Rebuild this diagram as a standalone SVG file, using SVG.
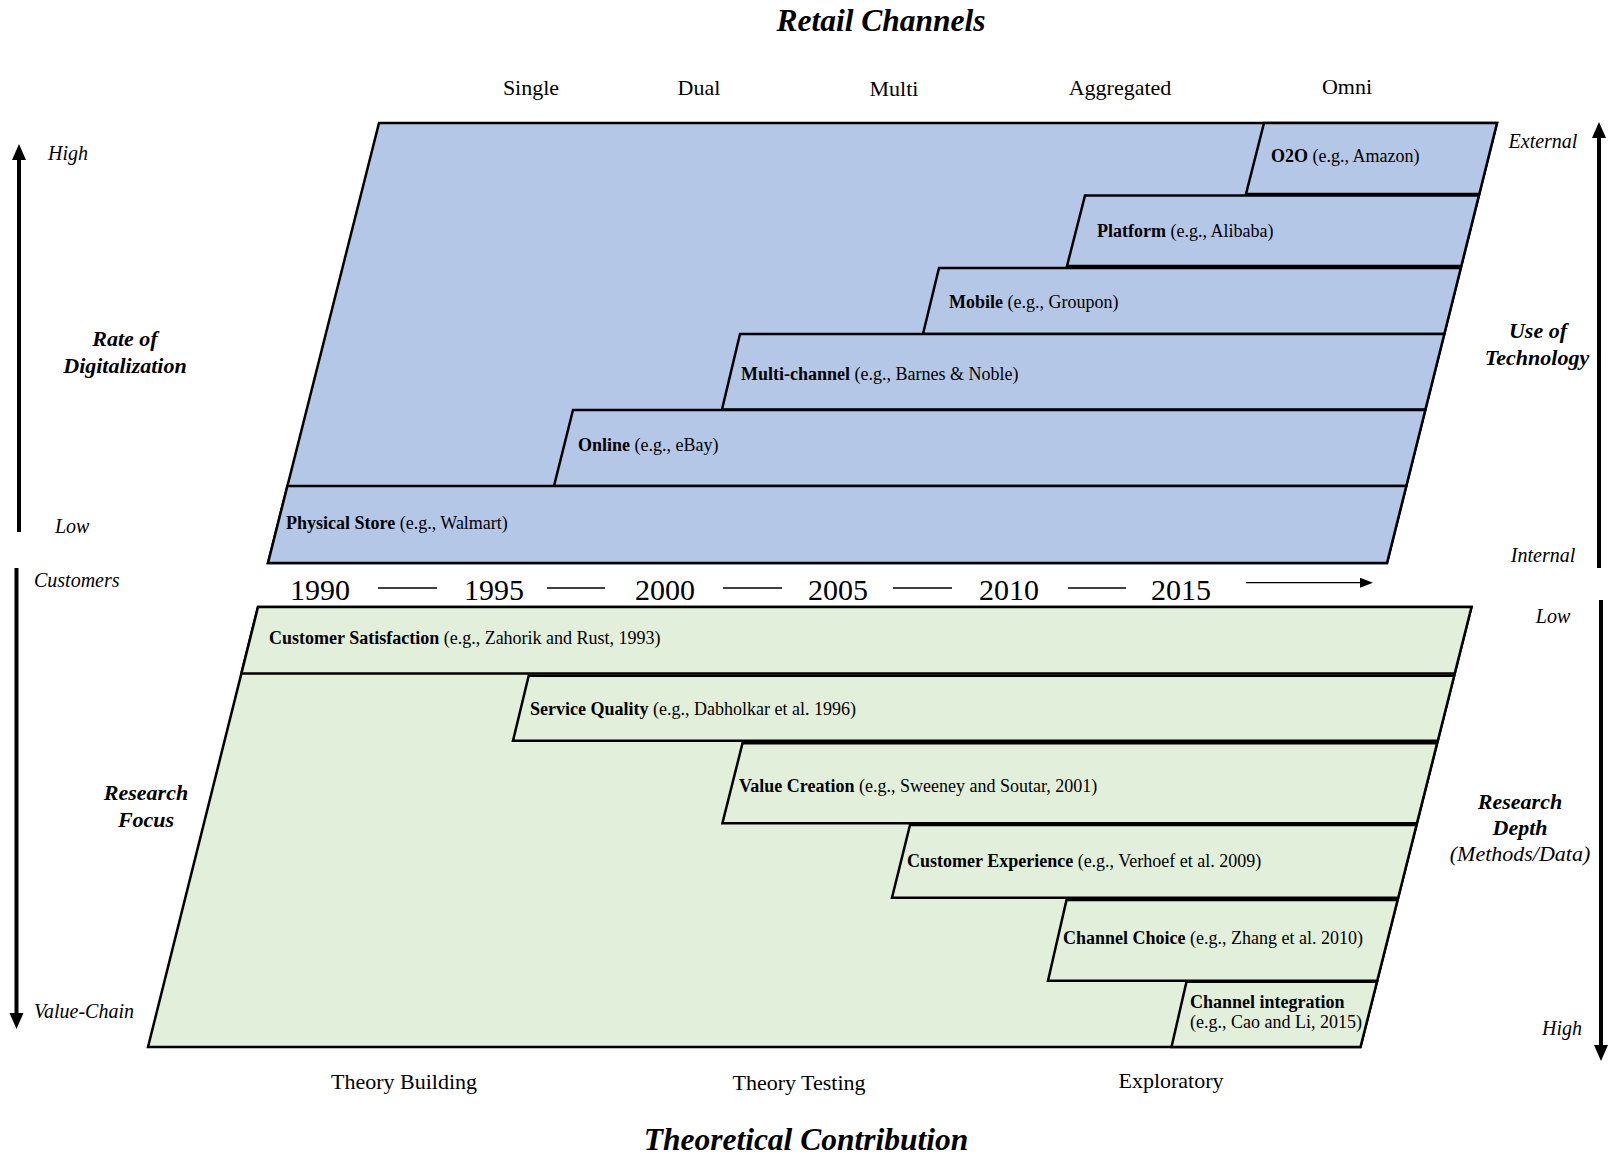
<svg xmlns="http://www.w3.org/2000/svg" width="1611" height="1157" viewBox="0 0 1611 1157">
<style>
  text { font-family: "Liberation Serif", "Times New Roman", serif; fill: #000; }
  .blue { fill: #B4C7E7; stroke: #000; stroke-width: 2.5; stroke-linejoin: miter; }
  .green { fill: #E2EFDA; stroke: #000; stroke-width: 2.5; stroke-linejoin: miter; }
  .lbl { font-size: 18px; }
  .lbl .b { font-weight: bold; }
  .head { font-size: 22px; }
  .axis { font-size: 22px; font-weight: bold; font-style: italic; text-anchor: middle; }
  .it { font-size: 20px; font-style: italic; }
  .itc { font-size: 20px; font-style: italic; text-anchor: middle; }
  .title { font-size: 31.5px; font-weight: bold; font-style: italic; text-anchor: middle; }
  .year { font-size: 30px; text-anchor: middle; }
  .dash { stroke: #000; stroke-width: 1.3; }
  .varrow { stroke: #000; stroke-width: 4; fill: none; }
</style>
<defs>
  <marker id="ah" markerUnits="userSpaceOnUse" markerWidth="16" markerHeight="16" viewBox="0 0 16 16" refX="1" refY="8" orient="auto">
    <path d="M0,1 L16,8 L0,15 Z" fill="#000"/>
  </marker>
  <marker id="ahs" markerUnits="userSpaceOnUse" markerWidth="13" markerHeight="10" viewBox="0 0 13 10" refX="1" refY="5" orient="auto">
    <path d="M0,0 L13,5 L0,10 Z" fill="#000"/>
  </marker>
</defs>

<rect x="0" y="0" width="1611" height="1157" fill="#fff"/>

<!-- Titles -->
<g id="title-retail-channels">
  <text class="title" x="881" y="31">Retail Channels</text>
</g>
<g id="channel-types" class="head">
  <text x="531" y="95" text-anchor="middle">Single</text>
  <text x="699" y="95" text-anchor="middle">Dual</text>
  <text x="894" y="96" text-anchor="middle">Multi</text>
  <text x="1120" y="95" text-anchor="middle">Aggregated</text>
  <text x="1347" y="94" text-anchor="middle">Omni</text>
</g>

<!-- Retail channels panel -->
<g id="retail-panel">
  <polygon class="blue" points="379,123 1497,123 1387,563 268,563"/>
</g>
<g id="node-o2o">
  <polygon class="blue" points="1264,123 1497,123 1479.3,194 1246,194"/>
  <text class="lbl" x="1271" y="162"><tspan class="b">O2O</tspan> (e.g., Amazon)</text>
</g>
<g id="node-platform">
  <polygon class="blue" points="1085,195.5 1478.9,195.5 1461.3,266 1067,266"/>
  <text class="lbl" x="1097" y="237"><tspan class="b">Platform</tspan> (e.g., Alibaba)</text>
</g>
<g id="node-mobile">
  <polygon class="blue" points="939,268 1460.8,268 1444.3,334 923,334"/>
  <text class="lbl" x="949" y="308"><tspan class="b">Mobile</tspan> (e.g., Groupon)</text>
</g>
<g id="node-multichannel">
  <polygon class="blue" points="740,334 1444.3,334 1425.4,409.5 722,409.5"/>
  <text class="lbl" x="741" y="380"><tspan class="b">Multi-channel</tspan> (e.g., Barnes &amp; Noble)</text>
</g>
<g id="node-online">
  <polygon class="blue" points="573,410 1425.3,410 1406.3,486 554,486"/>
  <text class="lbl" x="578" y="451"><tspan class="b">Online</tspan> (e.g., eBay)</text>
</g>
<g id="node-physical-store">
  <polygon class="blue" points="287.4,486 1406.3,486 1387,563 268,563"/>
  <text class="lbl" x="286" y="529"><tspan class="b">Physical Store</tspan> (e.g., Walmart)</text>
</g>

<!-- Timeline -->
<g id="timeline">
  <text class="year" x="320" y="600">1990</text>
  <text class="year" x="494" y="600">1995</text>
  <text class="year" x="665" y="600">2000</text>
  <text class="year" x="838" y="600">2005</text>
  <text class="year" x="1009" y="600">2010</text>
  <text class="year" x="1181" y="600">2015</text>
  <line class="dash" x1="378" y1="588" x2="437" y2="588"/>
  <line class="dash" x1="547" y1="588" x2="605" y2="588"/>
  <line class="dash" x1="723" y1="588" x2="782" y2="588"/>
  <line class="dash" x1="893" y1="588" x2="952" y2="588"/>
  <line class="dash" x1="1068" y1="588" x2="1126" y2="588"/>
</g>

<!-- Research panel -->
<g id="research-panel">
  <polygon class="green" points="258,607 1471.5,607 1360.5,1047 148,1047"/>
</g>
<g id="node-customer-satisfaction">
  <polygon class="green" points="258,607 1471.5,607 1454.7,673.5 241.4,673.5"/>
  <text class="lbl" x="269" y="644"><tspan class="b">Customer Satisfaction</tspan> (e.g., Zahorik and Rust, 1993)</text>
</g>
<g id="node-service-quality">
  <polygon class="green" points="528.7,675.7 1454.2,675.7 1437.8,740.7 513,740.7"/>
  <text class="lbl" x="530" y="715"><tspan class="b">Service Quality</tspan> (e.g., Dabholkar et al. 1996)</text>
</g>
<g id="node-value-creation">
  <polygon class="green" points="742.5,743.3 1437.1,743.3 1416.9,823.3 722.4,823.3"/>
  <text class="lbl" x="739" y="792"><tspan class="b">Value Creation</tspan> (e.g., Sweeney and Soutar, 2001)</text>
</g>
<g id="node-customer-experience">
  <polygon class="green" points="910,825 1416.5,825 1398.2,897.7 892,897.7"/>
  <text class="lbl" x="907" y="867"><tspan class="b">Customer Experience</tspan> (e.g., Verhoef et al. 2009)</text>
</g>
<g id="node-channel-choice">
  <polygon class="green" points="1066.5,900 1397.6,900 1377.2,980.7 1048,980.7"/>
  <text class="lbl" x="1063" y="944"><tspan class="b">Channel Choice</tspan> (e.g., Zhang et al. 2010)</text>
</g>
<g id="node-channel-integration">
  <polygon class="green" points="1186.5,981.7 1377,981.7 1360.5,1047 1171.5,1047"/>
  <text class="lbl" x="1190" y="1007.5"><tspan class="b">Channel integration</tspan></text>
  <text class="lbl" x="1190" y="1028">(e.g., Cao and Li, 2015)</text>
</g>

<!-- Bottom labels -->
<g id="contribution-types" class="head">
  <text x="404" y="1089" text-anchor="middle">Theory Building</text>
  <text x="799" y="1090" text-anchor="middle">Theory Testing</text>
  <text x="1171" y="1088" text-anchor="middle">Exploratory</text>
</g>
<g id="title-theoretical-contribution">
  <text class="title" x="806" y="1150">Theoretical Contribution</text>
</g>

<!-- Axis labels -->
<g id="axis-rate-of-digitalization">
  <text class="it" x="48" y="160">High</text>
  <text class="it" x="55" y="533">Low</text>
  <text class="axis" x="125" y="346">Rate of</text>
  <text class="axis" x="125" y="373">Digitalization</text>
</g>
<g id="axis-research-focus">
  <text class="it" x="34" y="587">Customers</text>
  <text class="it" x="34" y="1018">Value-Chain</text>
  <text class="axis" x="146" y="800">Research</text>
  <text class="axis" x="146" y="826.5">Focus</text>
</g>
<g id="axis-use-of-technology">
  <text class="itc" x="1543" y="148">External</text>
  <text class="itc" x="1543" y="562">Internal</text>
  <text class="axis" x="1538" y="338">Use of</text>
  <text class="axis" x="1537" y="365">Technology</text>
</g>
<g id="axis-research-depth">
  <text class="itc" x="1553" y="623">Low</text>
  <text class="itc" x="1562" y="1035">High</text>
  <text class="axis" x="1520" y="809">Research</text>
  <text class="axis" x="1520" y="835">Depth</text>
  <text x="1520" y="861" font-size="22" font-style="italic" text-anchor="middle">(Methods/Data)</text>
</g>

<!-- Connectors / arrows -->
<g id="connectors">
  <line class="varrow" x1="19" y1="532" x2="19" y2="159" marker-end="url(#ah)"/>
  <line class="varrow" x1="16.5" y1="568" x2="16.5" y2="1014" marker-end="url(#ah)"/>
  <line class="varrow" x1="1599" y1="568" x2="1599" y2="137" marker-end="url(#ah)"/>
  <line class="varrow" x1="1601" y1="600" x2="1601" y2="1046" marker-end="url(#ah)"/>
  <line stroke="#000" stroke-width="1.3" x1="1246" y1="582.7" x2="1361" y2="582.7" marker-end="url(#ahs)"/>
</g>
</svg>
